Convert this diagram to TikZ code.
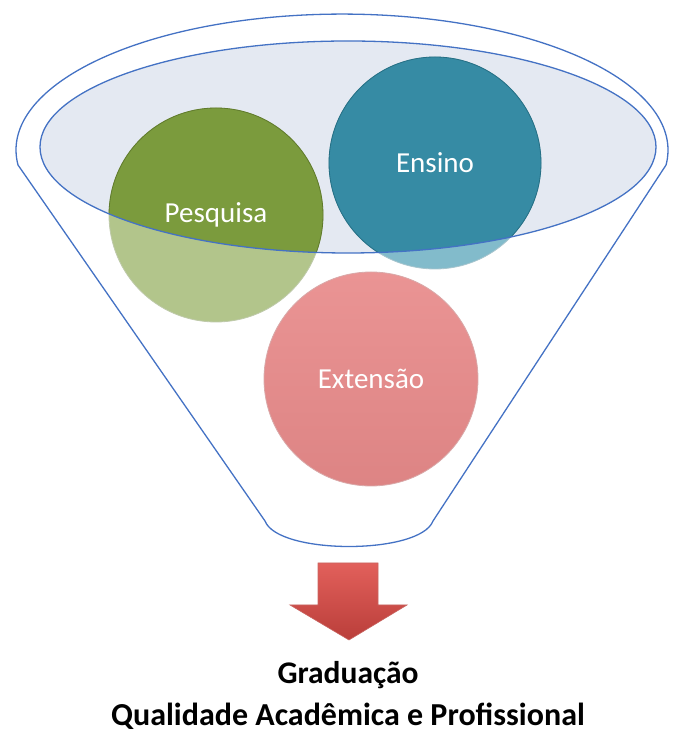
\documentclass[tikz,border=0pt]{standalone}
\usepackage{fontspec}
\setmainfont{Carlito}
\definecolor{funnelline}{HTML}{4472C4}
\definecolor{funnelfill}{HTML}{E4E9F2}
\definecolor{greendark}{HTML}{7B9B3D}
\definecolor{greenlight}{HTML}{B2C58B}
\definecolor{greenrim}{HTML}{5F7A2C}
\definecolor{tealdark}{HTML}{368BA4}
\definecolor{teallight}{HTML}{82BBCB}
\definecolor{tealrim}{HTML}{256F85}
\definecolor{pinktop}{HTML}{EA9494}
\definecolor{pinkbot}{HTML}{DD8484}
\definecolor{pinkrim}{HTML}{C07070}
\definecolor{arrowtop}{HTML}{E2605B}
\definecolor{arrowbot}{HTML}{BA3E3A}
\tikzset{
  funnel/.style={draw=funnelline, line width=1.3pt},
  ball/.style={circle, minimum size=214pt, inner sep=0pt, text=white,
    font=\fontsize{29}{34}\selectfont},
  caption/.style={text=black}
}
\begin{document}
\begin{tikzpicture}[x=1pt,y=1pt]
\useasboundingbox (0,0) rectangle (675,733);
% outer funnel
\draw[funnel] (18,568) arc[start angle=186.3, end angle=-6.3, x radius=326, y radius=136]
  -- (433,212) .. controls (420,178) and (278,178) .. (265,212) -- cycle;
% inner ellipse (mouth)
\fill[funnelfill] (348,586) ellipse[x radius=308, y radius=106];
% circles, light parts
\fill[greenlight, draw=greenrim!40, line width=0.8pt] (216,518) circle[radius=107];
\fill[teallight, draw=tealrim!40, line width=0.8pt] (435,570) circle[radius=106];
\shade[top color=pinktop, bottom color=pinkbot, draw=pinkrim!60, line width=0.8pt] (371,354) circle[radius=107];
% dark parts inside the ellipse
\begin{scope}
  \clip (348,586) ellipse[x radius=308, y radius=106];
  \fill[greendark, draw=greenrim, line width=0.8pt] (216,518) circle[radius=107];
  \fill[tealdark, draw=tealrim, line width=0.8pt] (435,570) circle[radius=106];
\end{scope}
\draw[funnel] (348,586) ellipse[x radius=308, y radius=106];
% labels
\node[ball] (pesq) at (216,518) {Pesquisa};
\node[ball] (ens) at (435,570) {Ensino};
\node[ball] (ext) at (371,354) {Extensão};
% arrow
\shade[top color=arrowtop, bottom color=arrowbot, draw=arrowbot!80, line width=0.6pt]
  (318,170) -- (378,170) -- (378,128) -- (407,128) -- (349,93) -- (290,128) -- (318,128) -- cycle;
% captions
\node[caption, font=\fontsize{31.5}{36}\selectfont\bfseries] (grad) at (348,58) {Graduação};
\node[caption, font=\fontsize{32}{36}\selectfont\bfseries] (qual) at (348,17) {Qualidade Acadêmica e Profissional};
\end{tikzpicture}
\end{document}
